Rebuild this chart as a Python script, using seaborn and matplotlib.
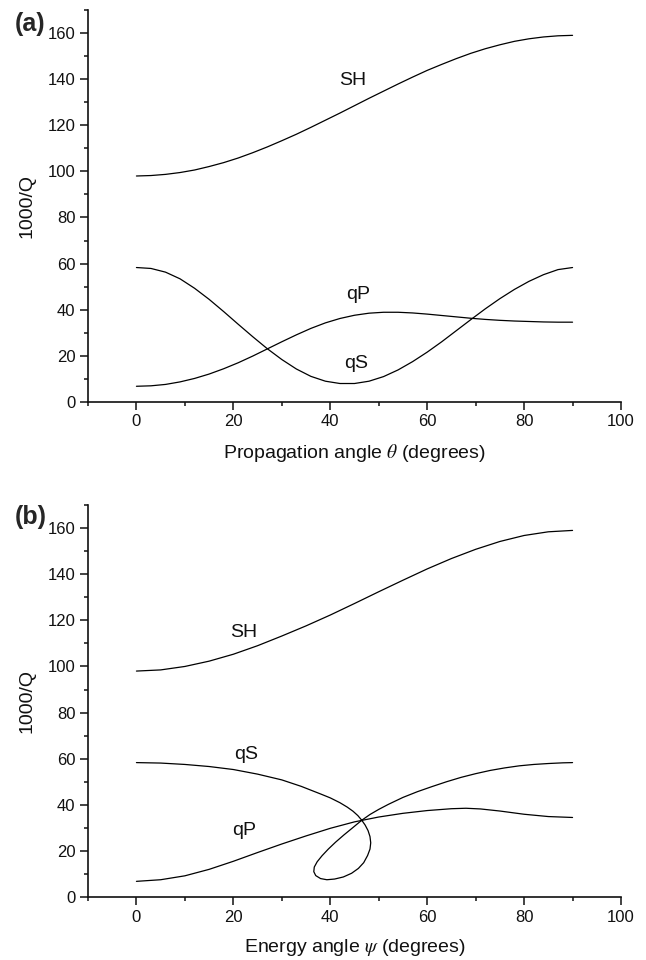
import matplotlib
matplotlib.use('Agg')
import matplotlib.pyplot as plt
import seaborn as sns
from matplotlib.ticker import MultipleLocator

sns.set_theme(style='ticks')
plt.rcParams['font.family'] = ['Liberation Sans', 'DejaVu Sans']
plt.rcParams['mathtext.fontset'] = 'stix'

# ---- panel (a): 1000/Q against propagation angle (3 degree steps)
theta = [0, 3, 6, 9, 12, 15, 18, 21, 24, 27, 30, 33, 36, 39, 42, 45,
         48, 51, 54, 57, 60, 63, 66, 69, 72, 75, 78, 81, 84, 87, 90]
sh_a = [98.0, 98.2, 98.7, 99.5, 100.6, 102.1, 103.8, 105.8, 108.1, 110.6, 113.3,
        116.1, 119.1, 122.2, 125.3, 128.5, 131.7, 134.8, 137.9, 140.9, 143.8,
        146.4, 148.9, 151.2, 153.2, 154.9, 156.4, 157.5, 158.3, 158.8, 159.0]
qp_a = [6.8, 7.0, 7.6, 8.7, 10.2, 12.1, 14.4, 17.0, 19.9, 23.0, 26.1,
        29.1, 31.9, 34.3, 36.2, 37.6, 38.5, 38.9, 38.9, 38.6, 38.1,
        37.5, 36.9, 36.3, 35.8, 35.4, 35.1, 34.9, 34.7, 34.6, 34.6]
qs_a = [58.3, 57.9, 56.3, 53.4, 49.3, 44.5, 39.2, 33.7, 28.3, 23.1, 18.4,
        14.3, 11.1, 9.0, 8.0, 8.0, 9.0, 11.0, 13.9, 17.5, 21.6,
        26.1, 30.9, 35.7, 40.4, 44.8, 48.8, 52.3, 55.2, 57.4, 58.3]

# ---- panel (b): 1000/Q against energy angle
psi_sh = [0, 5, 10, 15, 20, 25, 30, 35, 40, 45, 50, 55, 60, 65, 70, 75, 80, 85, 90]
sh_b = [98.0, 98.5, 100.0, 102.3, 105.3, 109.0, 113.2, 117.6, 122.3, 127.3,
        132.4, 137.4, 142.3, 146.8, 150.8, 154.2, 156.8, 158.4, 159.0]
psi_qp = [0, 5, 10, 15, 20, 25, 30, 35, 40, 45, 50, 55, 60, 65, 68, 71, 75, 80, 85, 90]
qp_b = [6.8, 7.5, 9.2, 12.0, 15.5, 19.3, 23.0, 26.5, 29.8, 32.6, 34.7, 36.3,
        37.5, 38.3, 38.5, 38.2, 37.3, 35.9, 34.9, 34.5]
# qS has a cusp loop, so its points are kept in path order
psi_qs = [0, 5, 10, 15, 20, 25, 30, 34, 38, 40, 42, 43.5, 44.7, 45.7, 46.5, 47.2,
          47.8, 48.2, 48.35, 48.2, 47.7, 46.9, 45.8, 44.4, 42.7, 40.9, 39.3, 38.0,
          37.0, 36.6, 36.7, 37.3, 38.3, 39.6, 41.1, 42.8, 44.6, 46.5, 48.2, 50, 52,
          55, 58, 61, 64, 67, 70, 73, 76, 79, 82, 85, 88, 90]
qs_b = [58.3, 58.1, 57.5, 56.6, 55.3, 53.3, 50.8, 48.0, 44.7, 43.0, 40.9, 39.0,
        37.2, 35.3, 33.3, 31.2, 28.8, 26.2, 23.5, 20.8, 18.0, 14.9, 12.4, 10.3,
        8.7, 7.8, 7.5, 8.0, 9.3, 11.0, 13.0, 15.3, 17.9, 20.8, 23.8, 26.9, 30.0,
        33.3, 35.8, 38.0, 40.2, 43.2, 45.7, 47.9, 50.0, 51.9, 53.5, 54.9, 56.0,
        56.9, 57.5, 57.9, 58.2, 58.3]

fig = plt.figure(figsize=(6.46, 9.6), dpi=100)
ax_a = fig.add_axes([0.1362, 0.5813, 0.8251, 0.4083])
ax_b = fig.add_axes([0.1362, 0.0656, 0.8251, 0.4083])


def draw_panel(ax, curves, labels, xlabel, tag, tag_y):
    for xs, ys in curves:
        sns.lineplot(x=xs, y=ys, ax=ax, sort=False, estimator=None,
                     color='black', linewidth=0.9)
    for txt, lx, ly in labels:
        ax.text(lx, ly, txt, ha='center', va='center', fontsize=14, color='#111111')

    ax.set_xlim(-10, 100)
    ax.set_ylim(0, 170)
    ax.xaxis.set_major_locator(MultipleLocator(20))
    ax.xaxis.set_minor_locator(MultipleLocator(10))
    ax.yaxis.set_major_locator(MultipleLocator(20))
    ax.yaxis.set_minor_locator(MultipleLocator(10))
    ax.tick_params(which='major', direction='out', length=6, width=1.1,
                   labelsize=12, colors='#111111', pad=3)
    ax.tick_params(which='minor', direction='out', length=3, width=1.1, colors='#111111')
    sns.despine(ax=ax)
    for s in ['left', 'bottom']:
        ax.spines[s].set_linewidth(1.2)
        ax.spines[s].set_color('#111111')

    ax.set_xlabel(xlabel, fontsize=14, color='#111111')
    ax.set_ylabel('1000/Q', fontsize=14, color='#111111')
    ax.xaxis.set_label_coords(0.5, -0.130)
    ax.xaxis.label.set_va('center')
    ax.yaxis.set_label_coords(-0.1145, 0.5)
    ax.yaxis.label.set_va('center')

    fig.text(0.023, tag_y, tag, fontsize=18, fontweight='bold', va='top', ha='left')


draw_panel(ax_a, [(theta, sh_a), (theta, qp_a), (theta, qs_a)],
           [('SH', 44.6, 139.4), ('qP', 45.8, 46.7), ('qS', 45.4, 16.7)],
           r'Propagation angle $\theta$ (degrees)', '(a)', 0.9875)
draw_panel(ax_b, [(psi_sh, sh_b), (psi_qp, qp_b), (psi_qs, qs_b)],
           [('SH', 22.1, 114.7), ('qS', 22.7, 62.0), ('qP', 22.3, 29.0)],
           r'Energy angle $\psi$ (degrees)', '(b)', 0.474)

fig.savefig('out.png', dpi=100)
